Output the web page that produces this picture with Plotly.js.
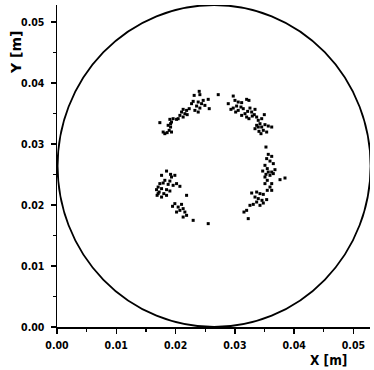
<!DOCTYPE html>
<html>
<head>
<meta charset="utf-8">
<script src="https://cdn.plot.ly/plotly-3.0.1.min.js"></script>
<style>html,body{margin:0;padding:0;background:#fff;}#chart{width:374px;height:370px;}</style>
</head>
<body>
<div id="chart"></div>
<script>
// Particle positions (m), grouped by cluster
const upperLeftX = [0.02399,0.02410,0.02314,0.02466,0.02551,0.02382,0.02439,0.02495,0.02355,0.02410,0.02568,0.02297,0.02270,0.02326,0.02382,0.02230,0.02186,0.02128,0.02101,0.02157,0.02073,0.02044,0.02017,0.02128,0.01959,0.01904,0.01932,0.01875,0.01916,0.01892,0.01932,0.01858,0.01819,0.01791,0.01735,0.01916,0.02196,0.02720];
const upperLeftY = [0.03864,0.03810,0.03798,0.03716,0.03733,0.03689,0.03662,0.03634,0.03623,0.03590,0.03580,0.03700,0.03662,0.03552,0.03525,0.03580,0.03552,0.03569,0.03525,0.03498,0.03470,0.03416,0.03405,0.03443,0.03416,0.03405,0.03361,0.03307,0.03279,0.03225,0.03197,0.03187,0.03170,0.03197,0.03351,0.03334,0.03482,0.03810];

const upperRightX = [0.02973,0.03002,0.03057,0.03115,0.03199,0.03238,0.02889,0.02934,0.02973,0.03014,0.03057,0.03103,0.03142,0.03171,0.03216,0.03255,0.03284,0.03340,0.03199,0.03238,0.03328,0.03368,0.03294,0.03395,0.03453,0.03497,0.03424,0.03368,0.03395,0.03453,0.03508,0.03564,0.03622,0.03480,0.03407,0.03441,0.03537,0.03340,0.03115,0.03030];
const upperRightY = [0.03787,0.03716,0.03689,0.03679,0.03733,0.03716,0.03662,0.03569,0.03590,0.03525,0.03552,0.03607,0.03580,0.03498,0.03536,0.03590,0.03525,0.03569,0.03443,0.03416,0.03482,0.03443,0.03459,0.03389,0.03416,0.03482,0.03334,0.03307,0.03279,0.03279,0.03318,0.03295,0.03279,0.03225,0.03208,0.03170,0.03197,0.03252,0.03470,0.03623];

const rightX = [0.03525,0.03564,0.03622,0.03537,0.03593,0.03649,0.03508,0.03547,0.03470,0.03564,0.03525,0.03593,0.03622,0.03649,0.03508,0.03547,0.03508,0.03762,0.03846,0.03593,0.03547,0.03622,0.03368,0.03284,0.03424,0.03480,0.03340,0.03395,0.03458,0.03537,0.03480,0.03368,0.03311,0.03255,0.03424,0.03199,0.03154,0.03226,0.03622,0.03677];
const rightY = [0.02951,0.02831,0.02798,0.02761,0.02721,0.02679,0.02651,0.02597,0.02557,0.02541,0.02503,0.02487,0.02541,0.02515,0.02459,0.02405,0.02351,0.02416,0.02443,0.02295,0.02241,0.02241,0.02213,0.02197,0.02187,0.02175,0.02131,0.02105,0.02077,0.02089,0.02033,0.02049,0.02011,0.01995,0.01995,0.01913,0.01885,0.01777,0.02351,0.02580];

const leftX = [0.01848,0.01916,0.01764,0.01988,0.01932,0.01819,0.01735,0.01791,0.01875,0.01959,0.02017,0.02073,0.01706,0.01679,0.01764,0.01848,0.01904,0.01723,0.01802,0.01689,0.01764,0.01848,0.02186,0.01988,0.01949,0.02044,0.02101,0.02128,0.02073,0.02157,0.02017,0.02186,0.02128,0.02297,0.02551,0.01706,0.01904];
const leftY = [0.02557,0.02503,0.02487,0.02487,0.02459,0.02405,0.02351,0.02361,0.02339,0.02323,0.02351,0.02307,0.02295,0.02252,0.02269,0.02252,0.02230,0.02213,0.02187,0.02159,0.02131,0.02159,0.02159,0.02023,0.01979,0.01967,0.02011,0.01941,0.01913,0.01885,0.01885,0.01831,0.01803,0.01749,0.01695,0.02187,0.02393];

// Vessel outline (m)
const circleCenterX = 0.0265;
const circleCenterY = 0.0264;
const circleRadius = 0.0264;

const tickVals = [0, 0.01, 0.02, 0.03, 0.04, 0.05];
const tickText = ["0.00", "0.01", "0.02", "0.03", "0.04", "0.05"];
const xTitle = "X [m]";
const yTitle = "Y [m]";

const allX = [].concat(upperLeftX, upperRightX, rightX, leftX);
const allY = [].concat(upperLeftY, upperRightY, rightY, leftY);

const tickFont = {family: "'DejaVu Sans Condensed', 'DejaVu Sans', sans-serif", size: 10.5, color: '#000', weight: 'bold'};

const axisCommon = {
  showgrid: false, zeroline: false, showline: true, linecolor: '#000', linewidth: 1.5,
  ticks: 'outside', ticklen: 5, tickwidth: 1.5, tickcolor: '#000',
  tickvals: tickVals, ticktext: tickText, tickfont: tickFont,
  minor: {tickvals: [0.005, 0.015, 0.025, 0.035, 0.045], ticks: 'outside', ticklen: 3, tickwidth: 1.2, tickcolor: '#000', showgrid: false},
  fixedrange: true
};

const data = [{
  type: 'scatter', mode: 'markers', x: allX, y: allY,
  marker: {color: '#000', size: 3, symbol: 'square'},
  hoverinfo: 'skip', showlegend: false, cliponaxis: true
}];

const layout = {
  width: 374, height: 370,
  margin: {l: 57, r: 4, t: 5, b: 43},
  paper_bgcolor: '#fff', plot_bgcolor: '#fff',
  showlegend: false,
  xaxis: Object.assign({}, axisCommon, {range: [0, 0.0528], ticklabelstandoff: 3}),
  yaxis: Object.assign({}, axisCommon, {range: [0, 0.0528], ticklabelstandoff: 4}),
  shapes: [{
    type: 'circle', xref: 'x', yref: 'y',
    x0: circleCenterX - circleRadius, x1: circleCenterX + circleRadius,
    y0: circleCenterY - circleRadius, y1: circleCenterY + circleRadius,
    line: {color: '#000', width: 1.8}, layer: 'below'
  }],
  annotations: [
    {text: xTitle, xref: 'paper', yref: 'paper', x: 0.867, y: -0.101, showarrow: false,
     xanchor: 'center', yanchor: 'middle',
     font: {family: "'DejaVu Sans Condensed', 'DejaVu Sans', sans-serif", size: 13.5, color: '#000', weight: 'bold'}},
    {text: yTitle, xref: 'paper', yref: 'paper', x: -0.131, y: 0.854, showarrow: false, textangle: -90,
     xanchor: 'center', yanchor: 'middle',
     font: {family: "'DejaVu Sans', sans-serif", size: 14, color: '#000', weight: 'bold'}}
  ]
};

Plotly.newPlot('chart', data, layout, {staticPlot: true, displayModeBar: false});
</script>
</body>
</html>
